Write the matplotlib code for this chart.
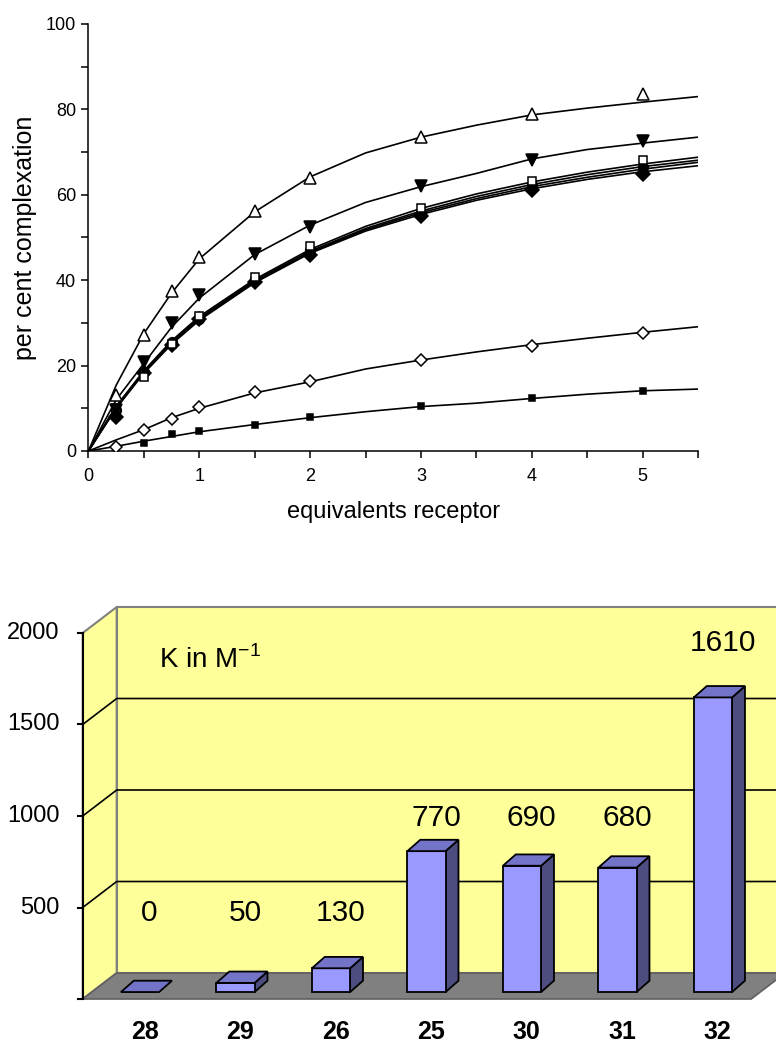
import matplotlib
matplotlib.use("Agg")
import matplotlib.pyplot as plt
from matplotlib.patches import Polygon

plt.rcParams["font.family"] = ["Liberation Sans", "DejaVu Sans"]
plt.rcParams["mathtext.fontset"] = "custom"
plt.rcParams["mathtext.rm"] = "Liberation Sans"

# ---- top chart: titration curves ----
x_obs = [0.25, 0.5, 0.75, 1, 1.5, 2, 3, 4, 5]
tri_open = [13.1, 27.2, 37.5, 45.5, 56.2, 63.9, 73.6, 78.9, 83.6]
tri_filled = [9.6, 20.9, 29.9, 36.5, 46.1, 52.5, 62.1, 68.1, 72.7]
sq_open = [10.0, 17.4, 25.0, 31.6, 40.8, 48.0, 56.8, 63.2, 68.1]
circ_filled = [9.5, 18.5, 25.6, 31.0, 40.2, 47.0, 55.8, 62.2, 66.5]
diam_filled = [7.9, 18.3, 24.9, 30.8, 39.6, 45.9, 55.0, 61.1, 64.8]
diam_open = [1.0, 4.9, 7.4, 10.4, 13.7, 16.4, 21.3, 24.7, 27.6]
sq_small = [1.0, 1.9, 4.0, 4.7, 6.2, 7.9, 10.5, 12.3, 14.1]

x_fit = [0, 0.25, 0.5, 0.75, 1, 1.5, 2, 2.5, 3, 3.5, 4, 4.5, 5, 5.5]
fit_tri_open = [0, 15.4, 27.5, 37.0, 45.0, 56.0, 64.2, 69.8, 73.5, 76.3, 78.7, 80.3, 81.7, 83.0]
fit_tri_filled = [0, 12.0, 20.5, 29.0, 35.8, 46.0, 52.9, 58.2, 61.9, 65.0, 68.4, 70.6, 72.1, 73.5]
fit_sq_open = [0, 10.5, 18.8, 25.8, 31.5, 40.2, 47.2, 52.6, 56.8, 60.2, 63.0, 65.3, 67.2, 68.8]
fit_circ = [0, 10.3, 18.6, 25.5, 31.2, 39.9, 46.8, 52.1, 56.2, 59.6, 62.4, 64.7, 66.6, 68.1]
fit_extra = [0, 10.1, 18.4, 25.2, 30.9, 39.6, 46.5, 51.8, 55.8, 59.1, 61.9, 64.1, 66.0, 67.6]
fit_diam_filled = [0, 10.0, 18.2, 25.0, 30.6, 39.4, 46.3, 51.5, 55.4, 58.7, 61.4, 63.6, 65.4, 66.8]
fit_diam_open = [0, 2.6, 5.0, 7.8, 10.0, 13.6, 16.2, 19.2, 21.3, 23.2, 24.9, 26.4, 27.8, 29.1]
fit_sq_small = [0, 1.1, 2.3, 3.4, 4.5, 6.2, 7.8, 9.2, 10.4, 11.2, 12.3, 13.3, 14.1, 14.5]

# ---- bottom chart: binding constants ----
compounds = ["28", "29", "26", "25", "30", "31", "32"]
k_values = [0, 50, 130, 770, 690, 680, 1610]
k_ticks = [500, 1000, 1500, 2000]
# vertical placement of the value labels (value units)
label_y = [470, 470, 470, 990, 990, 990, 1945]

fig = plt.figure(figsize=(7.76, 10.43), dpi=100)

# top axes
ax = fig.add_axes([0.114, 0.5676, 0.7855, 0.4094])
series = [
    (fit_sq_small, sq_small, "s", "black", 5),
    (fit_diam_open, diam_open, "D", "white", 6.5),
    (fit_extra, None, None, None, 0),
    (fit_diam_filled, diam_filled, "D", "black", 7.5),
    (fit_circ, circ_filled, "o", "black", 7),
    (fit_sq_open, sq_open, "s", "white", 6),
    (fit_tri_filled, tri_filled, "v", "black", 8),
    (fit_tri_open, tri_open, "^", "white", 8.5),
]
for fit, obs, marker, face, size in series:
    ax.plot(x_fit, fit, color="black", lw=1.2, zorder=2)
for fit, obs, marker, face, size in series:
    if obs is not None:
        ax.plot(x_obs, obs, ls="none", marker=marker, mfc=face, mec="black",
                mew=1.1, ms=size, zorder=3)

ax.set_xlim(0, 5.5)
ax.set_ylim(0, 100)
ax.set_xticks([0, 1, 2, 3, 4, 5])
ax.set_xticks([0.5, 1.5, 2.5, 3.5, 4.5, 5.5], minor=True)
ax.set_yticks([0, 20, 40, 60, 80, 100])
ax.set_yticks([10, 30, 50, 70, 90], minor=True)
ax.tick_params(which="both", direction="out", length=5, width=1.1, labelsize=13)
ax.tick_params(axis="x", which="both", pad=7)
ax.tick_params(axis="y", which="both", pad=4)
for side in ["top", "right"]:
    ax.spines[side].set_visible(False)
for side in ["left", "bottom"]:
    ax.spines[side].set_linewidth(1.1)
ax.set_xlabel("equivalents receptor", fontsize=17, labelpad=12)
ax.set_ylabel("per cent complexation", fontsize=18, labelpad=6)
ax.patch.set_visible(False)

# bottom axes: pseudo-3D bar chart drawn in category/value units
bx = fig.add_axes([0, 0, 1, 453 / 1043])
bx.set_xlim(-1.466, 6.660)
bx.set_ylim(-240.4, 2234.9)
bx.axis("off")

x0, x1 = -0.6, 6.4
ddx, ddy = 0.356, 142
top = 2000
yellow = "#FFFF99"
gray = "#808080"

# side wall, back wall, floor
bx.add_patch(Polygon([(x0, 0), (x0, top), (x0 + ddx, top + ddy), (x0 + ddx, ddy)],
                     closed=True, fc=yellow, ec=gray, lw=1.5, zorder=1))
bx.add_patch(Polygon([(x0 + ddx, ddy), (x1 + ddx, ddy), (x1 + ddx, top + ddy), (x0 + ddx, top + ddy)],
                     closed=True, fc=yellow, ec=gray, lw=1.5, zorder=1))
bx.add_patch(Polygon([(x0, 0), (x1, 0), (x1 + ddx, ddy), (x0 + ddx, ddy)],
                     closed=True, fc=gray, ec="#606060", lw=1.2, zorder=2))

# gridlines on walls
for v in k_ticks[:-1]:
    bx.plot([x0, x0 + ddx, x1 + ddx], [v, v + ddy, v + ddy], color="black", lw=1.2, zorder=2)

# value axis
bx.plot([x0, x0], [0, top], color="black", lw=1.5, zorder=3)
for v in [0] + k_ticks:
    bx.plot([x0 - 0.045, x0], [v, v], color="black", lw=1.5, zorder=3)
for v in k_ticks:
    bx.text(x0 - 0.24, v, str(v), ha="right", va="center", fontsize=17)

# bars
bw = 0.4
bdx, bdy = 0.135, 62
base = 38
front_c = "#9999FF"
top_c = "#7373C8"
side_c = "#4D4D80"
for i, (name, k) in enumerate(zip(compounds, k_values)):
    left, right = i - bw / 2, i + bw / 2
    y_top = base + k
    if k > 0:
        bx.add_patch(Polygon([(right, base), (right + bdx, base + bdy), (right + bdx, y_top + bdy), (right, y_top)],
                             closed=True, fc=side_c, ec="black", lw=1.3, zorder=4))
        bx.add_patch(Polygon([(left, base), (right, base), (right, y_top), (left, y_top)],
                             closed=True, fc=front_c, ec="black", lw=1.3, zorder=4))
    bx.add_patch(Polygon([(left, y_top), (right, y_top), (right + bdx, y_top + bdy), (left + bdx, y_top + bdy)],
                         closed=True, fc=top_c, ec="black", lw=1.3, zorder=4))
    bx.text(i + 0.1, label_y[i], str(k), ha="center", va="center", fontsize=21.5, zorder=5)
    bx.text(i + 0.05, -178, name, ha="center", va="center", fontsize=18, fontweight="bold")

bx.text(0.2, 1809, r"K in M$^{\mathrm{-1}}$", ha="left", va="baseline", fontsize=20, zorder=5)

fig.savefig("out.png", dpi=100)
